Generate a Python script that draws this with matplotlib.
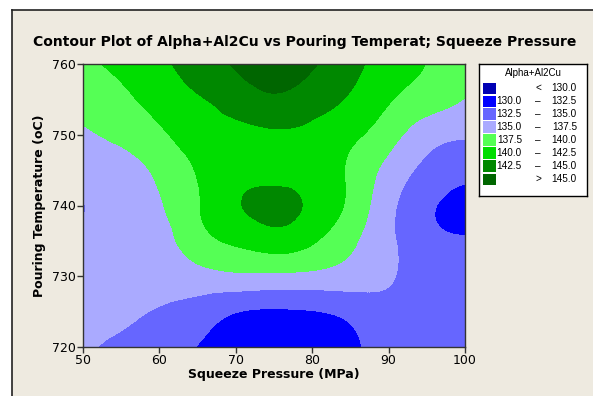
import numpy as np
import matplotlib
matplotlib.use("Agg")
import matplotlib.pyplot as plt
import matplotlib.tri as mtri
from matplotlib.patches import Rectangle

# response grid: squeeze pressure (MPa) x pouring temperature (oC)
pressure = [50, 55, 60, 65, 70, 75, 80, 85, 90, 95, 100]
temperature = [720, 725, 730, 735, 740, 745, 750, 755, 760]

# Alpha+Al2Cu, one row per temperature (720 -> 760), one column per pressure
alpha_al2cu = [
    [135.4, 134.4, 133.5, 132.4, 131.0, 130.8, 131.2, 132.0, 133.5, 133.6, 133.4],
    [135.7, 135.5, 134.8, 134.0, 132.6, 132.2, 132.4, 133.2, 134.0, 133.7, 133.6],
    [135.8, 135.9, 136.0, 136.5, 137.0, 137.0, 136.8, 136.3, 135.3, 133.8, 133.6],
    [135.6, 136.0, 136.5, 139.0, 140.4, 141.3, 140.3, 138.0, 135.5, 133.3, 132.8],
    [134.9, 136.1, 137.3, 139.8, 142.2, 143.2, 142.0, 139.4, 135.7, 133.0, 131.5],
    [136.2, 136.6, 138.0, 140.2, 141.8, 141.7, 141.4, 139.6, 136.7, 134.4, 133.5],
    [137.2, 138.0, 139.5, 141.3, 141.9, 142.1, 141.8, 140.6, 138.5, 136.0, 135.2],
    [138.4, 139.4, 141.0, 142.3, 143.5, 144.6, 143.6, 142.2, 140.2, 138.8, 137.4],
    [139.5, 140.6, 142.0, 143.5, 145.3, 146.5, 145.3, 143.3, 141.2, 139.95, 138.5],
]

levels = [130.0, 132.5, 135.0, 137.5, 140.0, 142.5, 145.0]
colors = ["#0000b4", "#0000ff", "#6666ff", "#aaaaff",
          "#55ff55", "#00dd00", "#008800", "#006600"]

bg = "#eeeae0"

X, Y = np.meshgrid(pressure, temperature)
Z = np.array(alpha_al2cu)

# smooth the surface with a cubic refinement of the triangulated grid
tri = mtri.Triangulation(X.ravel(), Y.ravel())
refiner = mtri.UniformTriRefiner(tri)
tri_f, z_f = refiner.refine_field(Z.ravel(), subdiv=4)

fig = plt.figure(figsize=(5.93, 3.96), dpi=100)
fig.patch.set_facecolor("white")

# panel background with dark left/top edge
panel = fig.add_axes([12 / 593, 0, 1 - 12 / 593, 1 - 10 / 396])
panel.set_facecolor(bg)
panel.set_xticks([])
panel.set_yticks([])
for side in ["right", "bottom"]:
    panel.spines[side].set_visible(False)
for side in ["left", "top"]:
    panel.spines[side].set_color("#222222")
    panel.spines[side].set_linewidth(1.2)

ax = fig.add_axes([83 / 593, 1 - 347 / 396, 382 / 593, 283 / 396])
bounds = [-1e9] + levels + [1e9]
ax.tricontourf(tri_f, z_f, levels=bounds, colors=colors)
ax.set_xlim(50, 100)
ax.set_ylim(720, 760)
ax.set_xticks([50, 60, 70, 80, 90, 100])
ax.set_yticks([720, 730, 740, 750, 760])
ax.tick_params(direction="out", length=4, width=1, labelsize=9, pad=1,
               colors="#333333", labelcolor="black")
for s in ax.spines.values():
    s.set_color("#333333")
    s.set_linewidth(1.0)
ax.set_xlabel("Squeeze Pressure (MPa)", fontsize=9, fontweight="bold", labelpad=1)
ax.set_ylabel("Pouring Temperature (oC)", fontsize=9, fontweight="bold", labelpad=4)

fig.text(0.5 + 8 / 593, 1 - 42 / 396,
         "Contour Plot of Alpha+Al2Cu vs Pouring Temperat; Squeeze Pressure",
         ha="center", va="center", fontsize=10, fontweight="bold")

# legend box, drawn in pixel units
lg = fig.add_axes([479 / 593, 1 - 196 / 396, 108 / 593, 132 / 396])
lg.set_xlim(0, 108)
lg.set_ylim(132, 0)
lg.set_xticks([])
lg.set_yticks([])
lg.set_facecolor("white")
for s in lg.spines.values():
    s.set_color("black")
    s.set_linewidth(1.0)
lg.text(54, 9, "Alpha+Al2Cu", ha="center", va="center", fontsize=7,
        family="Liberation Sans")
row_y = [24.3, 37.3, 50.0, 63.0, 76.0, 89.0, 101.7, 115.3]
labels = [("", "<", f"{levels[0]:.1f}")]
for lo, hi in zip(levels[:-1], levels[1:]):
    labels.append((f"{lo:.1f}", "\u2013", f"{hi:.1f}"))
labels.append(("", ">", f"{levels[-1]:.1f}"))
for yy, c, (lo, mid, hi) in zip(row_y, colors, labels):
    lg.add_patch(Rectangle((4, yy - 5.8), 13, 11.6, facecolor=c, edgecolor="none"))
    lg.text(43, yy, lo, ha="right", va="center", fontsize=7.2, family="Liberation Sans")
    lg.text(59, yy, mid, ha="center", va="center", fontsize=7.2, family="Liberation Sans")
    lg.text(98, yy, hi, ha="right", va="center", fontsize=7.2, family="Liberation Sans")

fig.savefig("out.png", dpi=100, facecolor=fig.get_facecolor())
